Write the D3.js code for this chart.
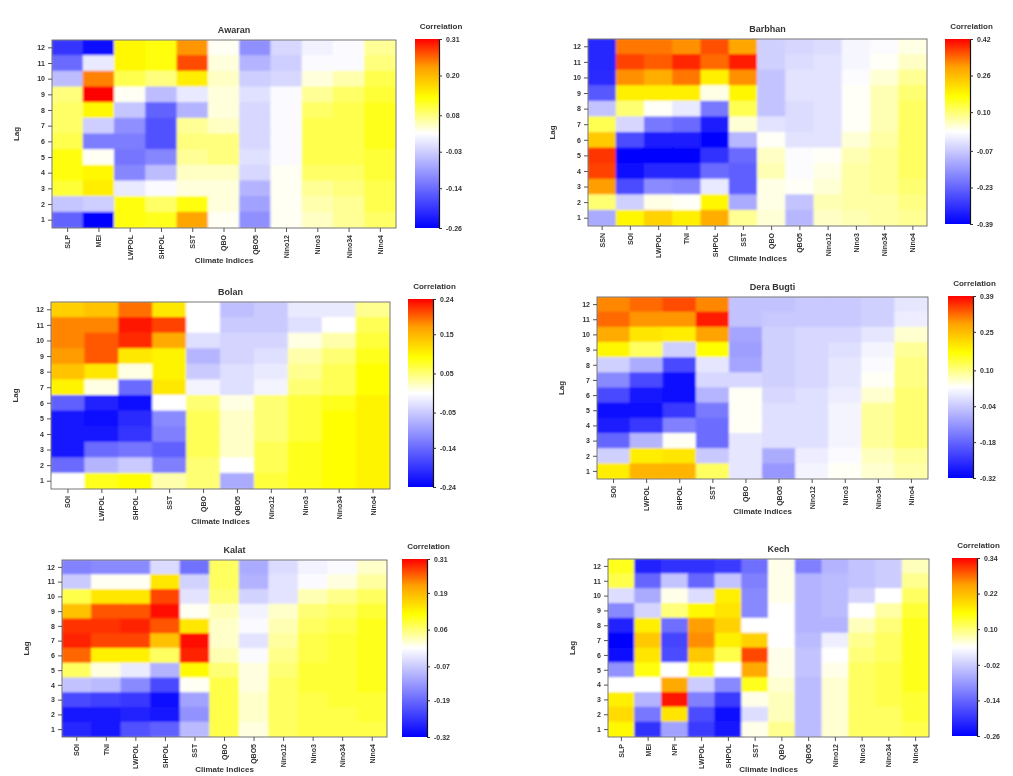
<!DOCTYPE html>
<html>
<head>
<meta charset="utf-8">
<script src="https://cdn.jsdelivr.net/npm/d3@7"></script>
<style>
  body { margin: 0; background: #fff; }
  svg { display: block; filter: blur(0.4px); }
  text { font-family: "Liberation Sans", Arial, sans-serif; font-weight: bold; fill: #333; }
</style>
</head>
<body>
<div id="chart"></div>
<script>
// lags, top row first
var lags = [12, 11, 10, 9, 8, 7, 6, 5, 4, 3, 2, 1];

// ---- Awaran
var awaranIndices = ["SLP", "MEI", "LWPOL", "SHPOL", "SST", "QBO", "QBO5", "Nino12", "Nino3", "Nino34", "Nino4"];
var awaranTicks = [0.31, 0.20, 0.08, -0.03, -0.14, -0.26];
var awaranValues = [
    [-0.20, -0.25, 0.14, 0.13, 0.23, 0.03, -0.10, -0.02, 0.01, 0.02, 0.07],
    [-0.14, 0.00, 0.14, 0.13, 0.27, 0.04, -0.06, -0.03, 0.02, 0.02, 0.08],
    [-0.05, 0.24, 0.10, 0.08, 0.15, 0.05, -0.03, -0.02, 0.04, 0.06, 0.10],
    [0.08, 0.31, 0.03, -0.05, 0.00, 0.04, -0.01, 0.02, 0.07, 0.09, 0.11],
    [0.09, 0.14, -0.04, -0.15, -0.06, 0.04, -0.02, 0.02, 0.09, 0.10, 0.12],
    [0.09, -0.03, -0.10, -0.17, 0.07, 0.05, -0.02, 0.02, 0.10, 0.10, 0.12],
    [0.10, -0.12, -0.12, -0.17, 0.08, 0.08, -0.02, 0.02, 0.10, 0.10, 0.12],
    [0.13, 0.03, -0.13, -0.11, 0.07, 0.08, -0.01, 0.02, 0.10, 0.10, 0.11],
    [0.13, 0.14, -0.11, -0.05, 0.05, 0.05, -0.02, 0.03, 0.09, 0.09, 0.11],
    [0.11, 0.15, 0.00, 0.02, 0.04, 0.04, -0.06, 0.03, 0.07, 0.08, 0.10],
    [-0.04, -0.03, 0.13, 0.09, 0.13, 0.04, -0.08, 0.03, 0.06, 0.07, 0.10],
    [-0.15, -0.26, 0.13, 0.12, 0.22, 0.03, -0.10, 0.03, 0.05, 0.07, 0.09]
];

// ---- Barbhan
var barbhanIndices = ["SSN", "SOI", "LWPOL", "TNI", "SHPOL", "SST", "QBO", "QBO5", "Nino12", "Nino3", "Nino34", "Nino4"];
var barbhanTicks = [0.42, 0.26, 0.10, -0.07, -0.23, -0.39];
var barbhanValues = [
    [-0.33, 0.33, 0.33, 0.31, 0.36, 0.29, -0.06, -0.05, -0.04, 0.00, 0.01, 0.03],
    [-0.33, 0.37, 0.35, 0.39, 0.34, 0.40, -0.06, -0.04, -0.03, 0.00, 0.02, 0.05],
    [-0.32, 0.31, 0.28, 0.33, 0.19, 0.31, -0.08, -0.03, -0.03, 0.01, 0.04, 0.08],
    [-0.25, 0.19, 0.19, 0.19, 0.03, 0.18, -0.08, -0.03, -0.03, 0.02, 0.06, 0.10],
    [-0.08, 0.10, 0.02, -0.02, -0.20, 0.12, -0.08, -0.04, -0.03, 0.02, 0.06, 0.11],
    [0.12, -0.05, -0.20, -0.22, -0.34, 0.04, -0.03, -0.04, -0.03, 0.02, 0.06, 0.11],
    [0.24, -0.27, -0.34, -0.34, -0.38, -0.10, 0.02, -0.03, -0.03, 0.04, 0.07, 0.11],
    [0.38, -0.38, -0.39, -0.38, -0.31, -0.22, 0.05, 0.01, 0.02, 0.06, 0.08, 0.11],
    [0.37, -0.37, -0.33, -0.33, -0.22, -0.24, 0.06, 0.01, 0.03, 0.07, 0.08, 0.11],
    [0.30, -0.27, -0.17, -0.18, -0.02, -0.24, 0.03, 0.02, 0.04, 0.07, 0.08, 0.10],
    [0.10, -0.06, 0.03, 0.02, 0.18, -0.12, 0.03, -0.08, 0.06, 0.07, 0.07, 0.09],
    [-0.12, 0.18, 0.23, 0.19, 0.28, 0.08, 0.04, -0.10, 0.05, 0.06, 0.07, 0.08]
];

// ---- Bolan
var bolanIndices = ["SOI", "LWPOL", "SHPOL", "SST", "QBO", "QBO5", "Nino12", "Nino3", "Nino34", "Nino4"];
var bolanTicks = [0.24, 0.15, 0.05, -0.05, -0.14, -0.24];
var bolanValues = [
    [0.13, 0.14, 0.19, 0.11, 0.00, -0.06, -0.05, -0.02, -0.02, 0.04],
    [0.18, 0.18, 0.23, 0.21, 0.00, -0.05, -0.05, -0.03, 0.00, 0.06],
    [0.18, 0.20, 0.22, 0.16, -0.03, -0.04, -0.04, 0.01, 0.03, 0.07],
    [0.17, 0.20, 0.11, 0.10, -0.07, -0.04, -0.03, 0.03, 0.05, 0.08],
    [0.14, 0.11, 0.01, 0.10, -0.05, -0.03, -0.02, 0.04, 0.06, 0.09],
    [0.10, 0.01, -0.14, 0.11, -0.01, -0.03, -0.01, 0.05, 0.06, 0.09],
    [-0.15, -0.21, -0.23, 0.00, 0.05, 0.01, 0.05, 0.07, 0.08, 0.10],
    [-0.22, -0.23, -0.20, -0.11, 0.06, 0.02, 0.05, 0.07, 0.09, 0.10],
    [-0.22, -0.22, -0.19, -0.12, 0.06, 0.02, 0.05, 0.07, 0.09, 0.10],
    [-0.22, -0.14, -0.13, -0.15, 0.06, 0.02, 0.06, 0.08, 0.09, 0.10],
    [-0.14, -0.07, -0.05, -0.12, 0.05, 0.00, 0.06, 0.08, 0.09, 0.10],
    [0.00, 0.08, 0.09, 0.03, 0.05, -0.08, 0.07, 0.08, 0.09, 0.10]
];

// ---- Dera Bugti
var deraIndices = ["SOI", "LWPOL", "SHPOL", "SST", "QBO", "QBO5", "Nino12", "Nino3", "Nino34", "Nino4"];
var deraTicks = [0.39, 0.25, 0.10, -0.04, -0.18, -0.32];
var deraValues = [
    [0.30, 0.32, 0.34, 0.30, -0.05, -0.05, -0.04, -0.04, -0.03, 0.00],
    [0.32, 0.29, 0.29, 0.37, -0.05, -0.04, -0.04, -0.04, -0.03, 0.01],
    [0.27, 0.20, 0.19, 0.28, -0.09, -0.03, -0.02, -0.02, 0.00, 0.06],
    [0.18, 0.12, -0.03, 0.17, -0.10, -0.03, -0.02, -0.01, 0.02, 0.09],
    [-0.03, -0.08, -0.22, 0.00, -0.09, -0.03, -0.02, 0.00, 0.03, 0.10],
    [-0.13, -0.22, -0.31, -0.02, -0.02, -0.03, -0.02, 0.00, 0.04, 0.10],
    [-0.22, -0.29, -0.31, -0.07, 0.04, -0.02, -0.01, 0.01, 0.06, 0.11],
    [-0.30, -0.30, -0.24, -0.15, 0.04, -0.01, -0.01, 0.02, 0.09, 0.11],
    [-0.28, -0.24, -0.14, -0.17, 0.04, -0.01, -0.01, 0.02, 0.09, 0.11],
    [-0.18, -0.07, 0.04, -0.17, 0.00, -0.01, -0.01, 0.02, 0.09, 0.11],
    [-0.03, 0.19, 0.20, -0.04, 0.00, -0.08, 0.01, 0.03, 0.07, 0.09],
    [0.19, 0.26, 0.26, 0.12, 0.00, -0.11, 0.02, 0.04, 0.06, 0.08]
];

// ---- Kalat
var kalatIndices = ["SOI", "TNI", "LWPOL", "SHPOL", "SST", "QBO", "QBO5", "Nino12", "Nino3", "Nino34", "Nino4"];
var kalatTicks = [0.31, 0.19, 0.06, -0.07, -0.19, -0.32];
var kalatValues = [
    [-0.16, -0.15, -0.15, -0.05, -0.18, 0.07, -0.11, -0.05, -0.02, -0.01, 0.02],
    [-0.07, 0.00, 0.00, 0.14, -0.06, 0.07, -0.10, -0.04, -0.01, 0.01, 0.04],
    [0.08, 0.14, 0.14, 0.27, -0.04, 0.06, -0.06, -0.04, 0.03, 0.05, 0.07],
    [0.18, 0.26, 0.26, 0.30, 0.00, 0.03, -0.02, 0.02, 0.06, 0.07, 0.09],
    [0.28, 0.28, 0.29, 0.26, 0.14, 0.02, -0.01, 0.03, 0.07, 0.08, 0.10],
    [0.29, 0.27, 0.27, 0.18, 0.30, 0.02, -0.04, 0.04, 0.08, 0.09, 0.10],
    [0.25, 0.13, 0.13, 0.07, 0.29, 0.03, -0.01, 0.05, 0.08, 0.09, 0.10],
    [0.07, 0.01, -0.03, -0.10, 0.12, 0.06, 0.01, 0.06, 0.09, 0.09, 0.10],
    [-0.08, -0.09, -0.15, -0.23, 0.00, 0.08, 0.01, 0.07, 0.09, 0.09, 0.10],
    [-0.23, -0.24, -0.25, -0.30, -0.12, 0.08, 0.02, 0.07, 0.08, 0.09, 0.09],
    [-0.29, -0.29, -0.28, -0.29, -0.14, 0.08, 0.02, 0.07, 0.08, 0.08, 0.09],
    [-0.27, -0.29, -0.22, -0.20, -0.09, 0.08, 0.01, 0.07, 0.08, 0.08, 0.08]
];

// ---- Kech
var kechIndices = ["SLP", "MEI", "NPI", "LWPOL", "SHPOL", "SST", "QBO", "QBO5", "Nino12", "Nino3", "Nino34", "Nino4"];
var kechTicks = [0.34, 0.22, 0.10, -0.02, -0.14, -0.26];
var kechValues = [
    [0.14, -0.22, -0.20, -0.20, -0.19, -0.13, 0.05, -0.11, -0.05, -0.03, -0.02, 0.07],
    [0.12, -0.14, -0.03, -0.14, -0.03, -0.11, 0.05, -0.05, -0.04, -0.03, -0.02, 0.09],
    [0.00, -0.06, 0.05, 0.00, 0.17, -0.10, 0.05, -0.05, -0.04, -0.01, 0.04, 0.11],
    [-0.10, -0.01, 0.10, 0.16, 0.18, -0.10, 0.04, -0.05, -0.04, 0.04, 0.08, 0.13],
    [-0.22, 0.17, -0.13, 0.25, 0.20, 0.04, 0.04, -0.05, -0.05, 0.07, 0.10, 0.14],
    [-0.26, 0.21, -0.18, 0.26, 0.17, 0.20, 0.04, -0.04, 0.02, 0.09, 0.11, 0.14],
    [-0.25, 0.18, -0.17, 0.21, 0.12, 0.30, 0.05, -0.03, 0.04, 0.10, 0.11, 0.14],
    [-0.09, 0.15, 0.04, 0.14, 0.04, 0.24, 0.05, -0.03, 0.05, 0.11, 0.12, 0.14],
    [0.04, 0.04, 0.24, -0.02, -0.10, 0.14, 0.06, -0.04, 0.06, 0.11, 0.12, 0.14],
    [0.17, -0.05, 0.33, -0.11, -0.19, 0.05, 0.07, -0.04, 0.06, 0.11, 0.12, 0.13],
    [0.19, -0.12, 0.18, -0.17, -0.24, 0.00, 0.07, -0.04, 0.06, 0.11, 0.11, 0.13],
    [0.16, -0.20, -0.07, -0.19, -0.23, 0.05, 0.09, -0.04, 0.06, 0.11, 0.11, 0.12]
];

// colour map: position along the bar -> colour
var colorStops = [0, 0.5, 0.69, 0.85, 1];
var colorRange = ["#0000ff", "#ffffff", "#ffff00", "#ffa000", "#ff0000"];

var panels = [
    { name: "Awaran", indices: awaranIndices, values: awaranValues, ticks: awaranTicks,
      box: [52, 40, 396, 228], bar: [415, 39, 439, 228] },
    { name: "Barbhan", indices: barbhanIndices, values: barbhanValues, ticks: barbhanTicks,
      box: [588, 39, 927, 226], bar: [945, 39, 970, 224] },
    { name: "Bolan", indices: bolanIndices, values: bolanValues, ticks: bolanTicks,
      box: [51, 302, 390, 489], bar: [408, 299, 433, 487] },
    { name: "Dera Bugti", indices: deraIndices, values: deraValues, ticks: deraTicks,
      box: [597, 297, 928, 479], bar: [948, 296, 973, 478] },
    { name: "Kalat", indices: kalatIndices, values: kalatValues, ticks: kalatTicks,
      box: [62, 560, 387, 737], bar: [402, 559, 427, 737] },
    { name: "Kech", indices: kechIndices, values: kechValues, ticks: kechTicks,
      box: [608, 559, 929, 737], bar: [952, 558, 977, 736] }
];

var svg = d3.select("#chart").append("svg")
    .attr("width", 1013)
    .attr("height", 776);

var defs = svg.append("defs");

defs.append("filter")
    .attr("id", "soft")
    .attr("x", "-5%").attr("y", "-5%").attr("width", "110%").attr("height", "110%")
    .append("feGaussianBlur")
    .attr("stdDeviation", 1.2);

var grad = defs.append("linearGradient")
    .attr("id", "cbar")
    .attr("x1", 0).attr("y1", 1).attr("x2", 0).attr("y2", 0);
grad.selectAll("stop")
    .data(colorStops)
    .enter().append("stop")
    .attr("offset", function(d) { return d; })
    .attr("stop-color", function(d, i) { return colorRange[i]; });

panels.forEach(function(p, pi) {
    var x0 = p.box[0], y0 = p.box[1], x1 = p.box[2], y1 = p.box[3];
    var vmax = p.ticks[0], vmin = p.ticks[p.ticks.length - 1];

    var xScale = d3.scaleBand().domain(p.indices).range([x0, x1]);
    var yScale = d3.scaleBand().domain(lags).range([y0, y1]);
    var color = d3.scaleLinear()
        .domain(colorStops.map(function(t) { return vmin + t * (vmax - vmin); }))
        .range(colorRange)
        .clamp(true);

    var g = svg.append("g");

    defs.append("clipPath").attr("id", "clip" + pi)
        .append("rect")
        .attr("x", x0).attr("y", y0)
        .attr("width", x1 - x0).attr("height", y1 - y0);

    // cells
    var cells = [];
    p.values.forEach(function(row, ri) {
        row.forEach(function(v, ci) {
            cells.push({ lag: lags[ri], index: p.indices[ci], value: v });
        });
    });

    g.append("g")
        .attr("clip-path", "url(#clip" + pi + ")")
        .append("g")
        .attr("filter", "url(#soft)")
        .selectAll("rect")
        .data(cells)
        .enter().append("rect")
        .attr("x", function(d) { return xScale(d.index) - 0.5; })
        .attr("y", function(d) { return yScale(d.lag) - 0.5; })
        .attr("width", xScale.bandwidth() + 1)
        .attr("height", yScale.bandwidth() + 1)
        .attr("fill", function(d) { return color(d.value); });

    // frame
    g.append("rect")
        .attr("x", x0).attr("y", y0)
        .attr("width", x1 - x0).attr("height", y1 - y0)
        .attr("fill", "none")
        .attr("stroke", "#555")
        .attr("stroke-width", 0.8);

    // axes
    var yAxis = g.append("g")
        .attr("transform", "translate(" + x0 + ",0)")
        .call(d3.axisLeft(yScale).tickSize(4).tickSizeOuter(0).tickPadding(3));
    yAxis.select(".domain").remove();
    yAxis.selectAll("line").attr("stroke", "#555");
    yAxis.selectAll("text").attr("font-size", 7).attr("fill", "#333");

    var xAxis = g.append("g")
        .attr("transform", "translate(0," + y1 + ")")
        .call(d3.axisBottom(xScale).tickSize(4).tickSizeOuter(0));
    xAxis.select(".domain").remove();
    xAxis.selectAll("line").attr("stroke", "#555");
    xAxis.selectAll("text")
        .attr("font-size", 7)
        .attr("fill", "#333")
        .attr("transform", "rotate(-90)")
        .attr("text-anchor", "end")
        .attr("x", -7)
        .attr("y", 0)
        .attr("dy", "0.35em");

    // labels
    g.append("text")
        .attr("x", (x0 + x1) / 2 + 10)
        .attr("y", y0 - 7)
        .attr("text-anchor", "middle")
        .attr("font-size", 9)
        .text(p.name);

    g.append("text")
        .attr("transform", "translate(" + (x0 - 33) + "," + ((y0 + y1) / 2) + ") rotate(-90)")
        .attr("text-anchor", "middle")
        .attr("font-size", 8)
        .text("Lag");

    g.append("text")
        .attr("x", (x0 + x1) / 2)
        .attr("y", y1 + 35)
        .attr("text-anchor", "middle")
        .attr("font-size", 8)
        .text("Climate Indices");

    // colour bar
    var bx0 = p.bar[0], by0 = p.bar[1], bx1 = p.bar[2], by1 = p.bar[3];
    g.append("rect")
        .attr("x", bx0).attr("y", by0)
        .attr("width", bx1 - bx0).attr("height", by1 - by0)
        .attr("fill", "url(#cbar)");

    var barScale = d3.scaleLinear().domain([vmin, vmax]).range([by1, by0]);
    var barAxis = g.append("g")
        .attr("transform", "translate(" + bx1 + ",0)")
        .call(d3.axisRight(barScale)
            .tickValues(p.ticks)
            .tickSize(3)
            .tickSizeOuter(0)
            .tickPadding(4)
            .tickFormat(function(d) { return d.toFixed(2); }));
    barAxis.select(".domain").attr("stroke", "#111").attr("stroke-width", 1.2);
    barAxis.selectAll("line").attr("stroke", "#333");
    barAxis.selectAll("text").attr("font-size", 7).attr("fill", "#333");

    g.append("text")
        .attr("x", (bx0 + bx1) / 2 + 14)
        .attr("y", by0 - 10)
        .attr("text-anchor", "middle")
        .attr("font-size", 8)
        .text("Correlation");
});
</script>
</body>
</html>
